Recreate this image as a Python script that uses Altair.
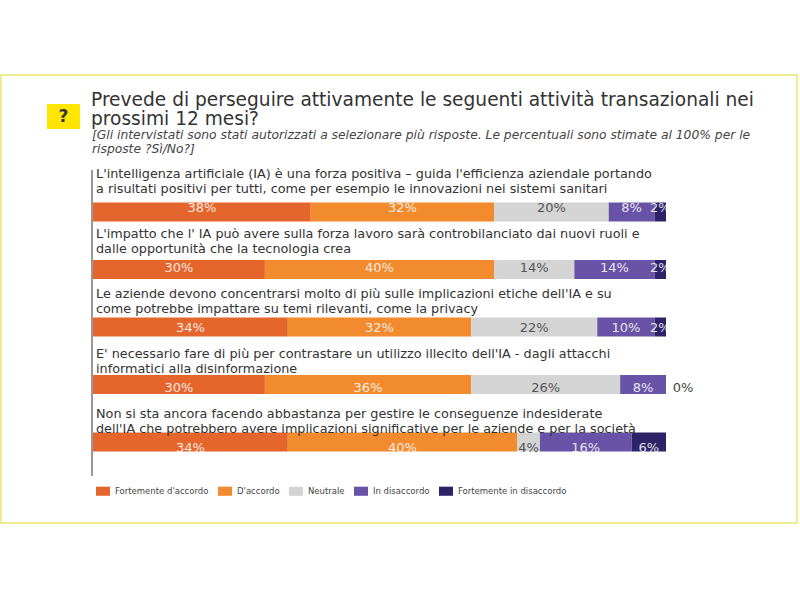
import altair as alt
import pandas as pd

# ---------------- data ----------------
questions = [
    "L'intelligenza artificiale (IA) è una forza positiva – guida l'efficienza aziendale portando\na risultati positivi per tutti, come per esempio le innovazioni nei sistemi sanitari",
    "L'impatto che l' IA può avere sulla forza lavoro sarà controbilanciato dai nuovi ruoli e\ndalle opportunità che la tecnologia crea",
    "Le aziende devono concentrarsi molto di più sulle implicazioni  etiche dell'IA e su\ncome potrebbe impattare su temi rilevanti, come la privacy",
    "E' necessario fare di più per contrastare un utilizzo illecito dell'IA - dagli attacchi\ninformatici alla disinformazione",
    "Non si sta ancora facendo abbastanza per gestire le conseguenze indesiderate\ndell'IA che potrebbero avere implicazioni  significative per le aziende e per la società",
]
categories = ["Fortemente d'accordo", "D'accordo", "Neutrale", "In disaccordo", "Fortemente in disaccordo"]
fortemente_accordo = [38, 30, 34, 30, 34]
accordo = [32, 40, 32, 36, 40]
neutrale = [20, 14, 22, 26, 4]
disaccordo = [8, 14, 10, 8, 16]
fortemente_disaccordo = [2, 2, 2, 0, 6]

title_lines = ["Prevede di perseguire attivamente le seguenti attività transazionali nei",
               "prossimi 12 mesi?"]
subtitle_lines = ["[Gli intervistati sono stati autorizzati a selezionare più risposte. Le percentuali sono stimate al 100% per le",
                  "risposte ?Sì/No?]"]

colors = ["#E5662D", "#F28A2E", "#D4D4D4", "#6853A6", "#2E2368"]

# ---------------- build tables ----------------
series = [fortemente_accordo, accordo, neutrale, disaccordo, fortemente_disaccordo]
rows = []
for qi, q in enumerate(questions):
    cum = 0
    for ci, cat in enumerate(categories):
        v = series[ci][qi]
        rows.append({"row": qi, "cat": cat, "order": ci, "value": v,
                     "start": cum, "end": cum + v, "mid": cum + v / 2,
                     "label": f"{v}%"})
        cum += v
bars = pd.DataFrame(rows)
qdf = pd.DataFrame({"row": list(range(len(questions))), "q": questions})

xscale = alt.Scale(domain=[0, 100], range=[93, 666])
yscale = alt.Scale(domain=[0, 4], range=[207, 447], zero=False, nice=False)

FONT = "DejaVu Sans"

bar_layer = alt.Chart(bars).mark_bar(size=19).encode(
    x=alt.X("start:Q", scale=xscale, axis=None),
    x2="end:Q",
    y=alt.Y("row:Q", scale=yscale, axis=None),
    color=alt.Color(
        "cat:N",
        scale=alt.Scale(domain=categories, range=colors),
        sort=categories,
        legend=alt.Legend(
            title=None, orient="none", legendX=96, legendY=484,
            direction="horizontal", symbolType="M-1,-0.65H1V0.65H-1Z",
            symbolSize=196, symbolStrokeWidth=0, symbolOpacity=1,
            labelFont=FONT, labelFontSize=8.5, labelColor="#444444",
            columnPadding=9, labelOffset=5, labelLimit=300,
        ),
    ),
    order=alt.Order("order:Q"),
)

lab_in = alt.Chart(bars).transform_filter("datum.value > 0").mark_text(
    font=FONT, fontSize=13, baseline="middle", align="center", dy=1
).encode(
    x=alt.X("mid:Q", scale=xscale, axis=None),
    y=alt.Y("row:Q", scale=yscale, axis=None),
    text="label:N",
    color=alt.condition("datum.cat == 'Neutrale'", alt.value("#555555"), alt.value("#FFFFFF")),
    opacity=alt.condition("datum.cat == 'Neutrale'", alt.value(1), alt.value(0.85)),
)

lab_zero = alt.Chart(bars).transform_filter("datum.value == 0").mark_text(
    font=FONT, fontSize=13, baseline="middle", align="center", dx=17, dy=1, color="#444444"
).encode(
    x=alt.X("mid:Q", scale=xscale, axis=None),
    y=alt.Y("row:Q", scale=yscale, axis=None),
    text="label:N",
)

q_layer = alt.Chart(qdf).mark_text(
    font=FONT, fontSize=12.8, align="left", baseline="top", lineBreak="\n",
    lineHeight=14.5, dx=3, dy=-39, color="#333333"
).encode(
    x=alt.datum(0, scale=xscale, axis=None),
    y=alt.Y("row:Q", scale=yscale, axis=None),
    text="q:N",
)

# ---------------- decorations ----------------
deco = pd.DataFrame({"k": [0]})
frame = alt.Chart(deco).mark_rect(fill=None, stroke="#E9E66A", strokeWidth=1.5).encode(
    x=alt.value(1), x2=alt.value(797), y=alt.value(75), y2=alt.value(523))
axis_line = alt.Chart(deco).mark_rule(color="#333333", strokeWidth=1).encode(
    x=alt.value(92), y=alt.value(170), y2=alt.value(476))
qbox = alt.Chart(deco).mark_rect(fill="#FFE600").encode(
    x=alt.value(47), x2=alt.value(80), y=alt.value(104), y2=alt.value(129))
qmark = alt.Chart(deco).mark_text(text="?", font=FONT, fontSize=17, fontWeight="bold",
                                  color="#333333", align="center", baseline="middle").encode(
    x=alt.value(63.5), y=alt.value(117))

tdf = pd.DataFrame({"t": title_lines, "i": [0, 1]})
title_layer = alt.Chart(tdf).mark_text(font=FONT, fontSize=18.6, align="left",
                                       baseline="middle", color="#333333").encode(
    x=alt.value(91),
    y=alt.Y("i:Q", scale=alt.Scale(domain=[0, 1], range=[100, 119]), axis=None),
    text="t:N")
sdf = pd.DataFrame({"t": subtitle_lines, "i": [0, 1]})
sub_layer = alt.Chart(sdf).mark_text(font=FONT, fontSize=12.3, fontStyle="italic", align="left",
                                     baseline="middle", color="#444444").encode(
    x=alt.value(92),
    y=alt.Y("i:Q", scale=alt.Scale(domain=[0, 1], range=[135, 149]), axis=None),
    text="t:N")

chart = alt.layer(
    frame, axis_line, qbox, qmark, title_layer, sub_layer,
    bar_layer, lab_in, lab_zero, q_layer
).resolve_scale(y="independent").properties(
    width=800, height=600, autosize="none", padding=0, background="white"
).configure_view(stroke=None)

chart.save("out.html", embed_options={"renderer": "svg", "actions": False})
